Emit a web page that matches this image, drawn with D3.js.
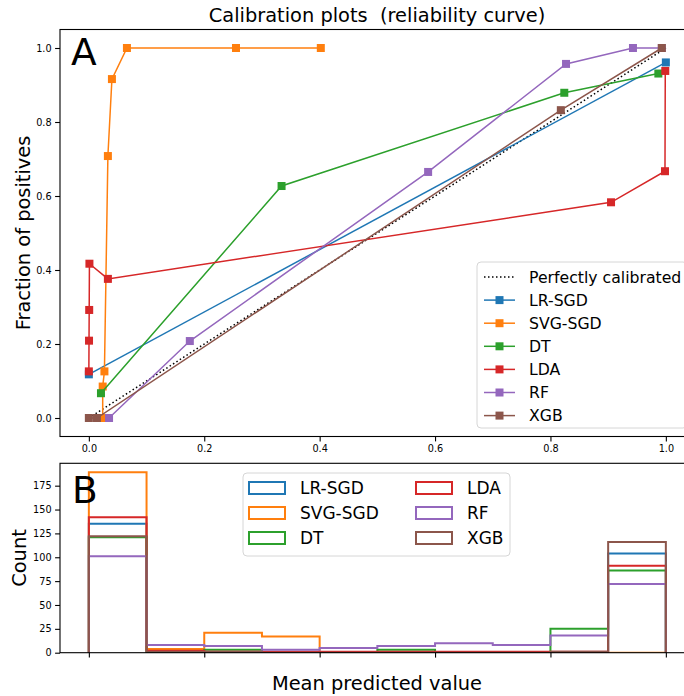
<!DOCTYPE html>
<html>
<head>
<meta charset="utf-8">
<script src="https://cdn.jsdelivr.net/npm/d3@7"></script>
<style>
  body { margin: 0; background: #fff; }
  svg text { font-family: 'DejaVu Sans', sans-serif; white-space: pre; }
</style>
</head>
<body>
<svg id="chart"></svg>
<script>
const models = ['LR-SGD', 'SVG-SGD', 'DT', 'LDA', 'RF', 'XGB']
const colors = ['#1f77b4', '#ff7f0e', '#2ca02c', '#d62728', '#9467bd', '#8c564b']

// calibration curves (mean predicted value, fraction of positives)
const lrMean = [0.0, 1.0]
const lrFrac = [0.118, 0.961]
const svgMean = [0.024, 0.024, 0.027, 0.033, 0.040, 0.066, 0.255, 0.402]
const svgFrac = [0.0, 0.085, 0.126, 0.708, 0.916, 1.0, 1.0, 1.0]
const dtMean = [0.021, 0.334, 0.824, 0.987]
const dtFrac = [0.067, 0.627, 0.879, 0.931]
const ldaMean = [0.0, 0.0003, 0.0006, 0.001, 0.033, 0.905, 0.9985, 0.999]
const ldaFrac = [0.126, 0.209, 0.292, 0.417, 0.376, 0.583, 0.667, 0.938]
const rfMean = [0.035, 0.175, 0.588, 0.827, 0.943, 0.993]
const rfFrac = [0.0, 0.208, 0.665, 0.957, 1.0, 1.0]
const xgbMean = [0.0, 0.014, 0.818, 0.993]
const xgbFrac = [0.0, 0.0, 0.832, 1.0]

// histogram counts, 10 bins over [0, 1]
const binEdges = [0, 0.1, 0.2, 0.3, 0.4, 0.5, 0.6, 0.7, 0.8, 0.9, 1.0]
const lrHist = [135, 0, 0, 0, 0, 0, 0, 0, 0, 104]
const svgHist = [189, 4, 21, 17, 0, 0, 0, 0, 0, 0]
const dtHist = [121, 0, 3, 0, 0, 3, 0, 0, 25, 86]
const ldaHist = [142, 2, 1, 1, 1, 1, 1, 1, 1, 91]
const rfHist = [101, 8, 7, 3, 5, 7, 10, 8, 18, 72]
const xgbHist = [122, 1, 1, 0, 0, 0, 0, 0, 1, 116]

const xTicks = [0, 0.2, 0.4, 0.6, 0.8, 1.0]
const yTicksTop = [0, 0.2, 0.4, 0.6, 0.8, 1.0]
const yTicksBot = [0, 25, 50, 75, 100, 125, 150, 175]

const curves = [
  [lrMean, lrFrac], [svgMean, svgFrac], [dtMean, dtFrac],
  [ldaMean, ldaFrac], [rfMean, rfFrac], [xgbMean, xgbFrac]
]
const hists = [lrHist, svgHist, dtHist, ldaHist, rfHist, xgbHist]

const W = 684, H = 696
const svg = d3.select('#chart').attr('width', W).attr('height', H)

const x = d3.scaleLinear().domain([-0.05, 1.05]).range([60, 694.7])
const yTop = d3.scaleLinear().domain([-0.05, 1.05]).range([436.5, 29.5])
const yBot = d3.scaleLinear().domain([0, 198.45]).range([652.7, 463.3])

const defs = svg.append('defs')
defs.append('clipPath').attr('id', 'clipTop').append('rect')
  .attr('x', 60).attr('y', 29.5).attr('width', 634.7).attr('height', 407)
defs.append('clipPath').attr('id', 'clipBot').append('rect')
  .attr('x', 60).attr('y', 463.3).attr('width', 634.7).attr('height', 189.4)

function styleAxis (g) {
  g.selectAll('path.domain').remove()
  g.selectAll('line').attr('stroke', '#000').attr('stroke-width', 1.1)
  g.selectAll('text').attr('font-size', 9.7).attr('fill', '#000')
    .attr('font-family', 'DejaVu Sans, sans-serif')
}

// ---------- top panel ----------
const topPanel = svg.append('g')
const plotTop = topPanel.append('g').attr('clip-path', 'url(#clipTop)')

plotTop.append('line')
  .attr('x1', x(0)).attr('y1', yTop(0)).attr('x2', x(1)).attr('y2', yTop(1))
  .attr('stroke', '#000').attr('stroke-width', 1.5).attr('stroke-dasharray', '1.5,2.5')

const line = d3.line()
curves.forEach(function (c, i) {
  const pts = c[0].map((m, k) => [x(m), yTop(c[1][k])])
  const g = plotTop.append('g')
  g.append('path').attr('d', line(pts)).attr('fill', 'none')
    .attr('stroke', colors[i]).attr('stroke-width', 1.5)
  g.selectAll('rect').data(pts).enter().append('rect')
    .attr('x', d => d[0] - 4).attr('y', d => d[1] - 4)
    .attr('width', 8).attr('height', 8).attr('fill', colors[i])
})

topPanel.append('g').attr('transform', 'translate(0,436.5)')
  .call(d3.axisBottom(x).tickValues(xTicks).tickFormat(d3.format('.1f')).tickSize(4.9).tickPadding(3.5))
  .call(styleAxis)
topPanel.append('g').attr('transform', 'translate(60,0)')
  .call(d3.axisLeft(yTop).tickValues(yTicksTop).tickFormat(d3.format('.1f')).tickSize(4.9).tickPadding(3.5))
  .call(styleAxis)
topPanel.append('rect').attr('x', 60).attr('y', 29.5).attr('width', 634.7).attr('height', 407)
  .attr('fill', 'none').attr('stroke', '#000').attr('stroke-width', 1.1)

topPanel.append('text').attr('x', 377).attr('y', 22).attr('text-anchor', 'middle')
  .attr('font-size', 19.4).text('Calibration plots  (reliability curve)')
topPanel.append('text').attr('transform', 'translate(30,233) rotate(-90)')
  .attr('text-anchor', 'middle').attr('font-size', 19.4).text('Fraction of positives')
topPanel.append('text').attr('x', 71).attr('y', 65).attr('font-size', 37.5).text('A')

// top legend
const legTop = topPanel.append('g')
legTop.append('rect').attr('x', 477).attr('y', 262).attr('width', 210).attr('height', 166)
  .attr('rx', 4).attr('fill', 'rgba(255,255,255,0.8)').attr('stroke', '#d6d6d6').attr('stroke-width', 1)
const legTopLabels = ['Perfectly calibrated'].concat(models)
legTopLabels.forEach(function (lab, i) {
  const cy = 277 + i * 23.1
  const g = legTop.append('g')
  if (i === 0) {
    g.append('line').attr('x1', 484).attr('x2', 515).attr('y1', cy).attr('y2', cy)
      .attr('stroke', '#000').attr('stroke-width', 1.5).attr('stroke-dasharray', '1.5,2.5')
  } else {
    g.append('line').attr('x1', 484).attr('x2', 515).attr('y1', cy).attr('y2', cy)
      .attr('stroke', colors[i - 1]).attr('stroke-width', 1.5)
    g.append('rect').attr('x', 499.5 - 4).attr('y', cy - 4).attr('width', 8).attr('height', 8)
      .attr('fill', colors[i - 1])
  }
  g.append('text').attr('x', 529).attr('y', cy).attr('dy', '0.36em')
    .attr('font-size', 15.7).text(lab)
})

// ---------- bottom panel ----------
const botPanel = svg.append('g')
const plotBot = botPanel.append('g').attr('clip-path', 'url(#clipBot)')

hists.forEach(function (h, i) {
  const pts = [[x(binEdges[0]), yBot(0)]]
  h.forEach(function (v, k) {
    pts.push([x(binEdges[k]), yBot(v)])
    pts.push([x(binEdges[k + 1]), yBot(v)])
  })
  pts.push([x(binEdges[binEdges.length - 1]), yBot(0)])
  plotBot.append('path').attr('d', line(pts)).attr('fill', 'none')
    .attr('stroke', colors[i]).attr('stroke-width', 2)
})

botPanel.append('g').attr('transform', 'translate(0,652.7)')
  .call(d3.axisBottom(x).tickValues(xTicks).tickFormat('').tickSize(4.9))
  .call(styleAxis)
botPanel.append('g').attr('transform', 'translate(60,0)')
  .call(d3.axisLeft(yBot).tickValues(yTicksBot).tickSize(4.9).tickPadding(3.5))
  .call(styleAxis)
botPanel.append('rect').attr('x', 60).attr('y', 463.3).attr('width', 634.7).attr('height', 189.4)
  .attr('fill', 'none').attr('stroke', '#000').attr('stroke-width', 1.1)

botPanel.append('text').attr('x', 377).attr('y', 690).attr('text-anchor', 'middle')
  .attr('font-size', 19.4).text('Mean predicted value')
botPanel.append('text').attr('transform', 'translate(26,558) rotate(-90)')
  .attr('text-anchor', 'middle').attr('font-size', 19.4).text('Count')
botPanel.append('text').attr('x', 72).attr('y', 503).attr('font-size', 37.5).text('B')

// bottom legend
const legBot = botPanel.append('g')
legBot.append('rect').attr('x', 243).attr('y', 473).attr('width', 267).attr('height', 83)
  .attr('rx', 4).attr('fill', 'rgba(255,255,255,0.8)').attr('stroke', '#d6d6d6').attr('stroke-width', 1)
models.forEach(function (lab, i) {
  const col = Math.floor(i / 3), row = i % 3
  const px = col === 0 ? 249 : 416
  const cy = 488 + row * 25
  legBot.append('rect').attr('x', px).attr('y', cy - 6).attr('width', 36).attr('height', 12)
    .attr('fill', 'none').attr('stroke', colors[i]).attr('stroke-width', 2)
  legBot.append('text').attr('x', px + 51).attr('y', cy).attr('dy', '0.36em')
    .attr('font-size', 17).text(lab)
})
</script>
</body>
</html>
